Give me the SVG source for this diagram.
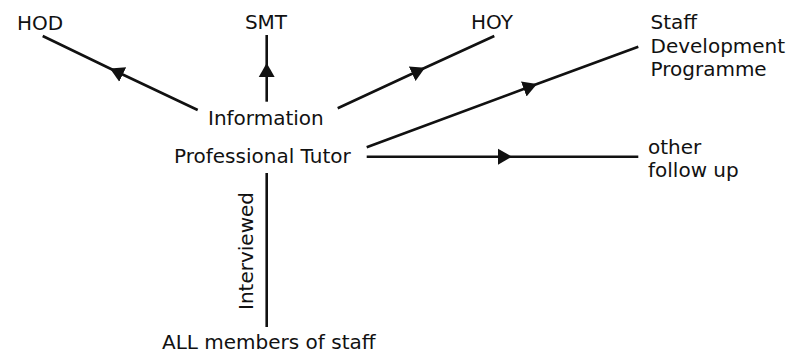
<svg xmlns="http://www.w3.org/2000/svg" width="788" height="353" viewBox="0 0 788 353">
  <style>
    text { font-family: "DejaVu Sans", "Liberation Sans", sans-serif; font-size: 20px; fill: #111; }
    .link { fill: none; stroke: #111; stroke-width: 2.6; marker-mid: url(#arrow); }
    .plain { fill: none; stroke: #111; stroke-width: 2.6; }
  </style>
  <defs>
    <!-- filled arrowhead placed on the middle vertex of each connector -->
    <marker id="arrow" markerUnits="userSpaceOnUse" markerWidth="16" markerHeight="18" viewBox="-15 -8.5 17 17" refX="0" refY="0" orient="auto">
      <path d="M0,0 L-15,-8.5 L-15,8.5 Z" fill="#111"/>
    </marker>
  </defs>

  <rect width="788" height="353" fill="#fff"/>

  <g id="connectors">
    <path class="link" d="M197.7,110 L110,68.5 L42.7,36"/>
    <path class="link" d="M266.7,101.7 L266.7,63 L266.7,35"/>
    <path class="link" d="M337.7,108.3 L425,67.8 L494.3,36"/>
    <path class="link" d="M366.7,147.3 L537,84 L638.3,46.7"/>
    <path class="link" d="M366.7,156.7 L512,156.7 L638.3,156.7"/>
    <path class="plain" d="M266.7,173 L266.7,327"/>
  </g>

  <g id="hod"><text x="17" y="30">HOD</text></g>
  <g id="smt"><text x="266" y="29" text-anchor="middle">SMT</text></g>
  <g id="hoy"><text x="471" y="29">HOY</text></g>
  <g id="staff-development">
    <text x="650.5" y="29">Staff</text>
    <text x="650.5" y="52.5">Development</text>
    <text x="650.5" y="76">Programme</text>
  </g>
  <g id="information"><text x="208" y="125">Information</text></g>
  <g id="professional-tutor"><text x="174" y="163">Professional Tutor</text></g>
  <g id="other-follow-up">
    <text x="648" y="154">other</text>
    <text x="648" y="177">follow up</text>
  </g>
  <g id="interviewed"><text transform="translate(253,310) rotate(-90)">Interviewed</text></g>
  <g id="all-staff"><text x="162" y="349">ALL members of staff</text></g>
</svg>
